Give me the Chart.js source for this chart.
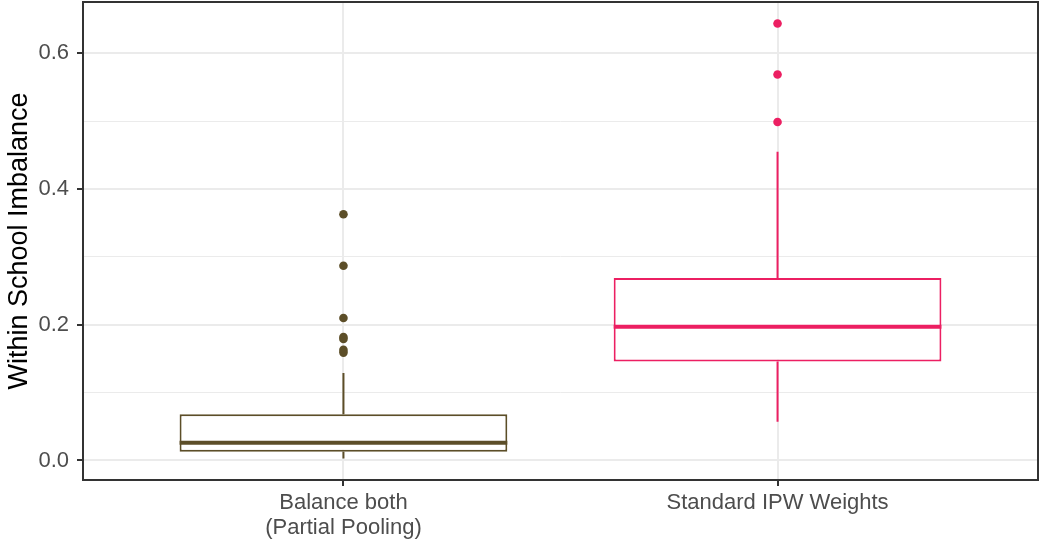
<!DOCTYPE html>
<html>
<head>
<meta charset="utf-8">
<script src="https://cdn.jsdelivr.net/npm/chart.js@4/dist/chart.umd.min.js"></script>
<style>
  html, body { margin: 0; padding: 0; background: #ffffff; }
  #wrap { width: 1040px; height: 540px; }
</style>
</head>
<body>
<div id="wrap"><canvas id="c" width="1040" height="540"></canvas></div>
<script>
// Categories (multi-line labels) and box summaries per category
const categories = [['Balance both', '(Partial Pooling)'], ['Standard IPW Weights']];
const lowerWhisker = [0.003, 0.057];
const q1 = [0.013, 0.146];
const median = [0.026, 0.197];
const q3 = [0.068, 0.269];
const upperWhisker = [0.129, 0.455];
const outliersBalance = [0.363, 0.287, 0.210, 0.182, 0.179, 0.163, 0.159];
const outliersIPW = [0.644, 0.569, 0.499];
const yTicks = [0, 0.1, 0.2, 0.3, 0.4, 0.5, 0.6];
const yMajor = [0, 0.2, 0.4, 0.6];
const colors = ['#5C4E28', '#EC1F62'];

const isMajor = v => yMajor.some(m => Math.abs(m - v) < 1e-9);
const FONT = "'Liberation Sans', Arial, sans-serif";

// Whiskers and median lines for each box, placed through the chart scales
const boxExtras = {
  id: 'boxExtras',
  afterDatasetDraw(chart, args) {
    if (args.index !== 0) return;
    const { ctx, scales: { x, y } } = chart;
    const meta = chart.getDatasetMeta(0);
    ctx.save();
    categories.forEach((_, i) => {
      const cx = x.getPixelForValue(i + 1);
      const bar = meta.data[i];
      const half = bar.width / 2;
      ctx.strokeStyle = colors[i];
      ctx.lineCap = 'butt';
      ctx.lineWidth = 2;
      ctx.beginPath();
      ctx.moveTo(cx, y.getPixelForValue(q3[i]));
      ctx.lineTo(cx, y.getPixelForValue(upperWhisker[i]));
      ctx.moveTo(cx, y.getPixelForValue(q1[i]));
      ctx.lineTo(cx, y.getPixelForValue(lowerWhisker[i]));
      ctx.stroke();
      ctx.lineWidth = 4;
      ctx.beginPath();
      const my = y.getPixelForValue(median[i]);
      ctx.moveTo(cx - half, my);
      ctx.lineTo(cx + half, my);
      ctx.stroke();
    });
    ctx.restore();
  }
};

// Full panel border around the plotting area
const panelBorder = {
  id: 'panelBorder',
  afterDraw(chart) {
    const { ctx, chartArea: a } = chart;
    ctx.save();
    ctx.strokeStyle = '#333333';
    ctx.lineWidth = 2;
    ctx.strokeRect(a.left, a.top, a.right - a.left, a.bottom - a.top);
    ctx.restore();
  }
};

new Chart(document.getElementById('c'), {
  type: 'bar',
  data: {
    datasets: [
      {
        label: 'box',
        data: categories.map((_, i) => ({ x: i + 1, y: [q1[i], q3[i]] })),
        backgroundColor: '#ffffff',
        borderColor: colors,
        borderWidth: 2,
        borderSkipped: false,
        barPercentage: 0.755,
        categoryPercentage: 1.0,
        order: 2
      },
      {
        type: 'scatter',
        label: 'outliers1',
        data: outliersBalance.map(v => ({ x: 1, y: v })),
        backgroundColor: colors[0],
        pointRadius: 4.3,
        pointBorderWidth: 0,
        order: 1
      },
      {
        type: 'scatter',
        label: 'outliers2',
        data: outliersIPW.map(v => ({ x: 2, y: v })),
        backgroundColor: colors[1],
        pointRadius: 4.3,
        pointBorderWidth: 0,
        order: 1
      }
    ]
  },
  options: {
    responsive: false,
    animation: false,
    devicePixelRatio: 1,
    layout: { autoPadding: false, padding: { top: 2, right: 2, left: 0, bottom: 0 } },
    plugins: { legend: { display: false }, tooltip: { enabled: false } },
    scales: {
      x: {
        type: 'linear',
        offset: false,
        min: 0.4,
        max: 2.6,
        afterBuildTicks: s => { s.ticks = categories.map((_, i) => ({ value: i + 1 })); },
        afterFit: s => { s.height = 60; s.paddingLeft = 0; s.paddingRight = 0; },
        border: { display: false },
        grid: { offset: false, color: '#EBEBEB', lineWidth: 2, tickLength: 6, tickColor: '#333333', tickWidth: 2 },
        ticks: {
          callback: v => categories[Math.round(v) - 1],
          color: '#4D4D4D',
          font: { family: FONT, size: 22, lineHeight: 1.15 },
          padding: 4,
          maxRotation: 0,
          autoSkip: false
        }
      },
      y: {
        type: 'linear',
        min: -0.0288,
        max: 0.6758,
        afterBuildTicks: s => { s.ticks = yTicks.map(v => ({ value: v })); },
        afterFit: s => { s.width = 83; s.paddingTop = 0; s.paddingBottom = 0; },
        border: { display: false },
        grid: {
          color: '#EBEBEB',
          lineWidth: c => isMajor(c.tick.value) ? 2 : 1,
          tickLength: 6,
          tickColor: c => isMajor(c.tick.value) ? '#333333' : 'rgba(0,0,0,0)',
          tickWidth: 2
        },
        ticks: {
          callback: v => isMajor(v) ? v.toFixed(1) : '',
          color: '#4D4D4D',
          font: { family: FONT, size: 22 },
          padding: 8,
          autoSkip: false
        },
        title: {
          display: true,
          text: 'Within School Imbalance',
          color: '#000000',
          font: { family: FONT, size: 27 },
          padding: { top: 3, bottom: 0 }
        }
      }
    }
  },
  plugins: [boxExtras, panelBorder]
});
</script>
</body>
</html>
